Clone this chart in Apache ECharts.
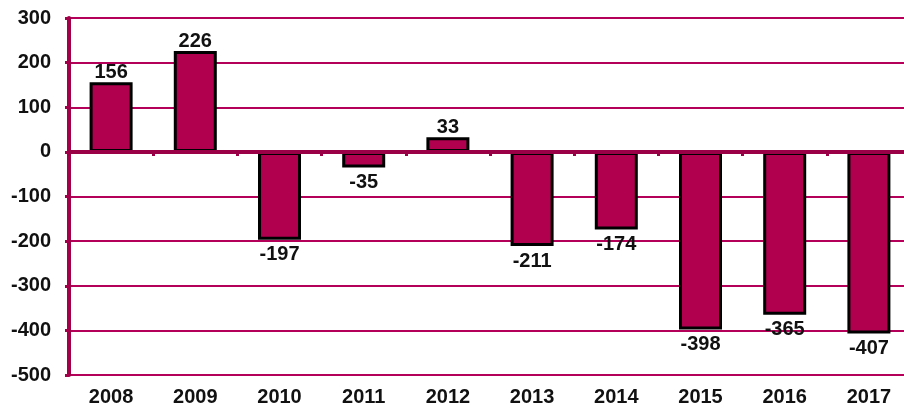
<!DOCTYPE html>
<html>
<head>
<meta charset="utf-8">
<script src="https://cdn.jsdelivr.net/npm/echarts@6/dist/echarts.min.js"></script>
<style>
  html, body { margin: 0; padding: 0; background: #fff; }
  #chart { width: 904px; height: 408px; }
</style>
</head>
<body>
<div id="chart"></div>
<script>
const years = ["2008", "2009", "2010", "2011", "2012", "2013", "2014", "2015", "2016", "2017"];
const values = [156, 226, -197, -35, 33, -211, -174, -398, -365, -407];

const chart = echarts.init(document.getElementById("chart"));

const font = "Liberation Sans, Arial, sans-serif";

chart.setOption({
  animation: false,
  // plot area runs a little past the right edge, as in the source
  grid: { left: 69, width: 842, top: 18, bottom: 33, outerBoundsMode: "none" },
  xAxis: {
    type: "category",
    data: years,
    axisLine: { onZero: true, lineStyle: { color: "#9a0045", width: 4 } },
    axisTick: { show: true, length: 4, lineStyle: { color: "#9a0045", width: 3 } },
    axisLabel: {
      color: "#111",
      fontFamily: font,
      fontWeight: "bold",
      fontSize: 20,
      margin: 12,
    },
    z: 3,
  },
  yAxis: {
    type: "value",
    min: -500,
    max: 300,
    interval: 100,
    axisLine: { show: true, lineStyle: { color: "#a3004a", width: 4 } },
    axisTick: { show: true, length: 4, lineStyle: { color: "#a3004a", width: 3 } },
    splitLine: { lineStyle: { color: "#b5005a", width: 2 } },
    axisLabel: {
      color: "#111",
      fontFamily: font,
      fontWeight: "bold",
      fontSize: 20,
      margin: 18,
    },
  },
  series: [
    {
      type: "bar",
      barWidth: 43,
      data: values.map((v) => ({
        value: v,
        label: { position: v < 0 ? "bottom" : "top", distance: v < 0 ? 5 : 0 },
      })),
      itemStyle: { color: "#b0004e", borderColor: "#000", borderWidth: 3 },
      label: {
        show: true,
        color: "#111",
        fontFamily: font,
        fontWeight: "bold",
        fontSize: 20,
      },
    },
  ],
});
</script>
</body>
</html>
